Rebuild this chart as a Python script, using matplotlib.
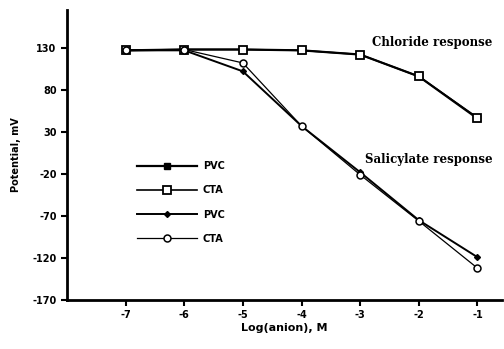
import matplotlib
matplotlib.use("Agg")
import matplotlib.pyplot as plt

log_anion = [-7, -6, -5, -4, -3, -2, -1]
chloride_pvc = [127, 128, 128, 127, 122, 96, 46]
chloride_cta = [127, 128, 128, 127, 122, 96, 47]
salicylate_pvc = [127, 127, 102, 37, -18, -75, -119]
salicylate_cta = [127, 128, 112, 37, -21, -76, -132]
yticks = [130, 80, 30, -20, -70, -120, -170]
xticks = [-7, -6, -5, -4, -3, -2, -1]

fig = plt.figure(figsize=(5.04, 3.49), dpi=100)
ax = fig.add_axes([67/504, 1-300/349, (502-67)/504, (300-10)/349])

ax.plot(log_anion, chloride_pvc, color='black', lw=1.6, marker='s', ms=5,
        mfc='black', mec='black', label='PVC', zorder=3)
ax.plot(log_anion, chloride_cta, color='black', lw=1.2, marker='s', ms=6,
        mfc='white', mec='black', mew=1.3, label='CTA', zorder=4)
ax.plot(log_anion, salicylate_pvc, color='black', lw=1.4, marker='D', ms=3,
        mfc='black', mec='black', label='PVC', zorder=3)
ax.plot(log_anion, salicylate_cta, color='black', lw=0.9, marker='o', ms=5,
        mfc='white', mec='black', mew=1.1, label='CTA', zorder=4)

ax.set_xlim(-8, -0.58)
ax.set_ylim(-170, 175)
ax.set_xticks(xticks)
ax.set_xticklabels([str(v) for v in xticks])
ax.set_yticks(yticks)
ax.set_yticklabels([str(v) for v in yticks])
for s in ['top', 'right']:
    ax.spines[s].set_visible(False)
for s in ['left', 'bottom']:
    ax.spines[s].set_linewidth(2)
ax.tick_params(axis='both', direction='out', length=4, width=1.5, labelsize=7)
for lbl in ax.get_xticklabels() + ax.get_yticklabels():
    lbl.set_fontweight('bold')

ax.set_xlabel('Log(anion), M', fontsize=8, fontweight='bold', labelpad=2)
ax.set_ylabel('Potential, mV', fontsize=7, fontweight='bold', labelpad=8)

ax.text(-2.80, 136, 'Chloride response', fontsize=8.5, fontweight='bold',
        family='DejaVu Serif', va='center')
ax.text(-2.92, -3, 'Salicylate response', fontsize=8.5, fontweight='bold',
        family='DejaVu Serif', va='center')

leg = ax.legend(loc='upper left', bbox_to_anchor=(0.16, 0.478), frameon=False,
                handlelength=6.2, labelspacing=1.45, handletextpad=0.6,
                borderpad=0, borderaxespad=0,
                prop={'weight': 'bold', 'size': 7})

fig.savefig('out.png', dpi=100)
